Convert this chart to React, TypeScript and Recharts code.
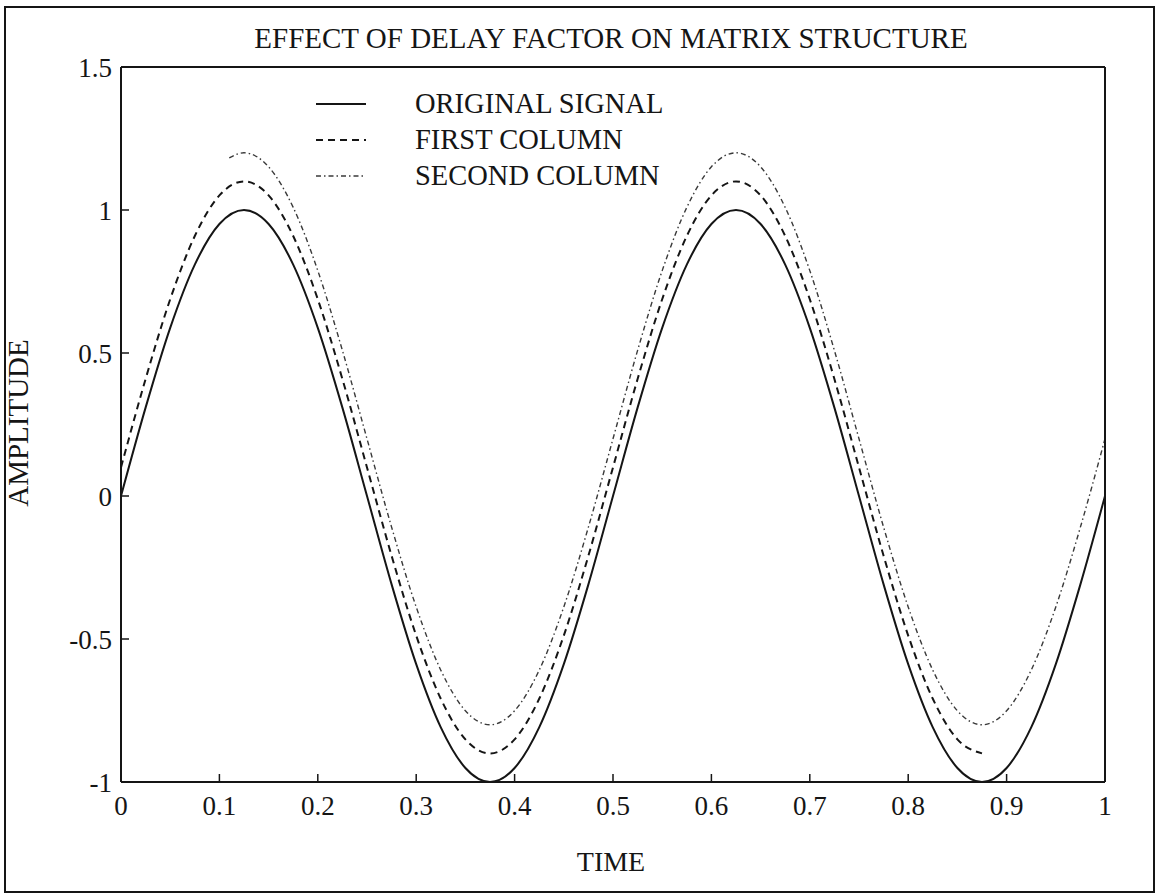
import { LineChart, Line, XAxis, YAxis, Legend } from 'recharts'

const FONT = '"Liberation Serif", "Times New Roman", Times, serif'
const INK = '#151515'

// sample times (s)
const TIME_GRID = [
  0, 0.025, 0.05, 0.075, 0.1, 0.125, 0.15, 0.175, 0.2, 0.225, 0.25, 0.275, 0.3, 0.325,
  0.35, 0.375, 0.4, 0.425, 0.45, 0.475, 0.5, 0.525, 0.55, 0.575, 0.6, 0.625, 0.65, 0.675,
  0.7, 0.725, 0.75, 0.775, 0.8, 0.825, 0.85, 0.875, 0.9, 0.925, 0.95, 0.975, 1,
]

const ORIGINAL_SIGNAL = [
  0, 0.309, 0.588, 0.809, 0.951, 1, 0.951, 0.809, 0.588, 0.309, 0, -0.309, -0.588, -0.809,
  -0.951, -1, -0.951, -0.809, -0.588, -0.309, 0, 0.309, 0.588, 0.809, 0.951, 1, 0.951, 0.809,
  0.588, 0.309, 0, -0.309, -0.588, -0.809, -0.951, -1, -0.951, -0.809, -0.588, -0.309, 0,
]

// first column stops at the second trough
const FIRST_COLUMN_TIME = TIME_GRID.slice(0, 36)
const FIRST_COLUMN = [
  0.1, 0.409, 0.688, 0.909, 1.051, 1.1, 1.051, 0.909, 0.688, 0.409, 0.1, -0.209, -0.488, -0.709,
  -0.851, -0.9, -0.851, -0.709, -0.488, -0.209, 0.1, 0.409, 0.688, 0.909, 1.051, 1.1, 1.051, 0.909,
  0.688, 0.409, 0.1, -0.209, -0.488, -0.709, -0.851, -0.9,
]

// second column starts just before the first peak
const SECOND_COLUMN_TIME = [0.11, ...TIME_GRID.slice(5)]
const SECOND_COLUMN = [
  1.182, 1.2, 1.151, 1.009, 0.788, 0.509, 0.2, -0.109, -0.388, -0.609, -0.751, -0.8, -0.751,
  -0.609, -0.388, -0.109, 0.2, 0.509, 0.788, 1.009, 1.151, 1.2, 1.151, 1.009, 0.788, 0.509, 0.2,
  -0.109, -0.388, -0.609, -0.751, -0.8, -0.751, -0.609, -0.388, -0.109, 0.2,
]

const X_TICKS = [0, 0.1, 0.2, 0.3, 0.4, 0.5, 0.6, 0.7, 0.8, 0.9, 1]
const Y_TICKS = [-1, -0.5, 0, 0.5, 1, 1.5]

const LEGEND_ORDER = ['ORIGINAL SIGNAL', 'FIRST COLUMN', 'SECOND COLUMN']

const toPoints = (ts: number[], vs: number[]) => ts.map((t, i) => ({ t, v: vs[i] }))

const originalData = toPoints(TIME_GRID, ORIGINAL_SIGNAL)
const firstData = toPoints(FIRST_COLUMN_TIME, FIRST_COLUMN)
const secondData = toPoints(SECOND_COLUMN_TIME, SECOND_COLUMN)

const STYLES: Record<string, { dash?: string; width: number; color: string }> = {
  'ORIGINAL SIGNAL': { width: 2, color: INK },
  'FIRST COLUMN': { dash: '7 5', width: 2, color: INK },
  'SECOND COLUMN': { dash: '5 3 1.5 3', width: 1.4, color: '#3a3a3a' },
}

const tickStyle = { fill: INK, fontSize: 27, fontFamily: FONT }
const lineStyle = { stroke: INK, strokeWidth: 1.5 }
const axisStyle = { stroke: INK, strokeWidth: 2 }

function LegendBox(props: any) {
  const items = [...(props.payload || [])].sort(
    (a: any, b: any) => LEGEND_ORDER.indexOf(a.value) - LEGEND_ORDER.indexOf(b.value)
  )
  return (
    <svg width={440} height={112} style={{ display: 'block' }}>
      {items.map((item: any, i: number) => {
        const s = STYLES[item.value] || { width: 2, color: INK }
        const y = 24 + i * 36
        return (
          <g key={item.value}>
            <line x1={16} x2={66} y1={y} y2={y} stroke={s.color} strokeWidth={s.width} strokeDasharray={s.dash} />
            <text x={115} y={y + 9} fill={INK} fontSize={28.5} fontFamily={FONT}>
              {item.value}
            </text>
          </g>
        )
      })}
    </svg>
  )
}

export default function App() {
  return (
    <div style={{ position: 'absolute', left: 0, top: 0, width: 1156, height: 894, background: '#fff' }}>
      <LineChart width={1156} height={894} margin={{ top: 66, right: 50, bottom: 52, left: 0 }}>
        <XAxis
          dataKey="t"
          type="number"
          domain={[0, 1]}
          ticks={X_TICKS}
          interval={0}
          tickSize={-8}
          tickMargin={22}
          height={60}
          tick={tickStyle}
          tickLine={lineStyle}
          axisLine={axisStyle}
          allowDataOverflow
        />
        <XAxis
          xAxisId="top"
          orientation="top"
          type="number"
          domain={[0, 1]}
          ticks={X_TICKS}
          interval={0}
          tickSize={-8}
          height={1}
          tick={false}
          tickLine={lineStyle}
          axisLine={axisStyle}
          allowDataOverflow
        />
        <YAxis
          type="number"
          domain={[-1, 1.5]}
          ticks={Y_TICKS}
          interval={0}
          tickSize={-8}
          tickMargin={17}
          width={121}
          tick={tickStyle}
          tickLine={lineStyle}
          axisLine={axisStyle}
          allowDataOverflow
        />
        <YAxis
          yAxisId="right"
          orientation="right"
          type="number"
          domain={[-1, 1.5]}
          ticks={Y_TICKS}
          interval={0}
          tickSize={-8}
          width={1}
          tick={false}
          tickLine={lineStyle}
          axisLine={axisStyle}
          allowDataOverflow
        />
        <Legend
          layout="vertical"
          align="center"
          verticalAlign="middle"
          content={<LegendBox />}
          wrapperStyle={{ left: 300, top: 80, width: 440, height: 112 }}
        />
        <Line
          data={originalData}
          dataKey="v"
          name="ORIGINAL SIGNAL"
          type="monotone"
          stroke={STYLES['ORIGINAL SIGNAL'].color}
          strokeWidth={STYLES['ORIGINAL SIGNAL'].width}
          dot={false}
          isAnimationActive={false}
        />
        <Line
          data={firstData}
          dataKey="v"
          name="FIRST COLUMN"
          type="monotone"
          stroke={STYLES['FIRST COLUMN'].color}
          strokeWidth={STYLES['FIRST COLUMN'].width}
          strokeDasharray={STYLES['FIRST COLUMN'].dash}
          dot={false}
          isAnimationActive={false}
        />
        <Line
          data={secondData}
          dataKey="v"
          name="SECOND COLUMN"
          type="monotone"
          stroke={STYLES['SECOND COLUMN'].color}
          strokeWidth={STYLES['SECOND COLUMN'].width}
          strokeDasharray={STYLES['SECOND COLUMN'].dash}
          dot={false}
          isAnimationActive={false}
        />
      </LineChart>

      {/* title, axis names and the outer frame */}
      <svg
        width={1156}
        height={894}
        style={{ position: 'absolute', left: 0, top: 0, pointerEvents: 'none' }}
      >
        <rect x={5} y={7} width={1149} height={885} fill="none" stroke={INK} strokeWidth={2} />
        <text x={611} y={48} textAnchor="middle" fill={INK} fontSize={29} fontFamily={FONT}>
          EFFECT OF DELAY FACTOR ON MATRIX STRUCTURE
        </text>
        <text x={611} y={871} textAnchor="middle" fill={INK} fontSize={28} fontFamily={FONT}>
          TIME
        </text>
        <text
          x={28}
          y={423}
          textAnchor="middle"
          fill={INK}
          fontSize={29}
          fontFamily={FONT}
          transform="rotate(-90 28 423)"
        >
          AMPLITUDE
        </text>
      </svg>
    </div>
  )
}
